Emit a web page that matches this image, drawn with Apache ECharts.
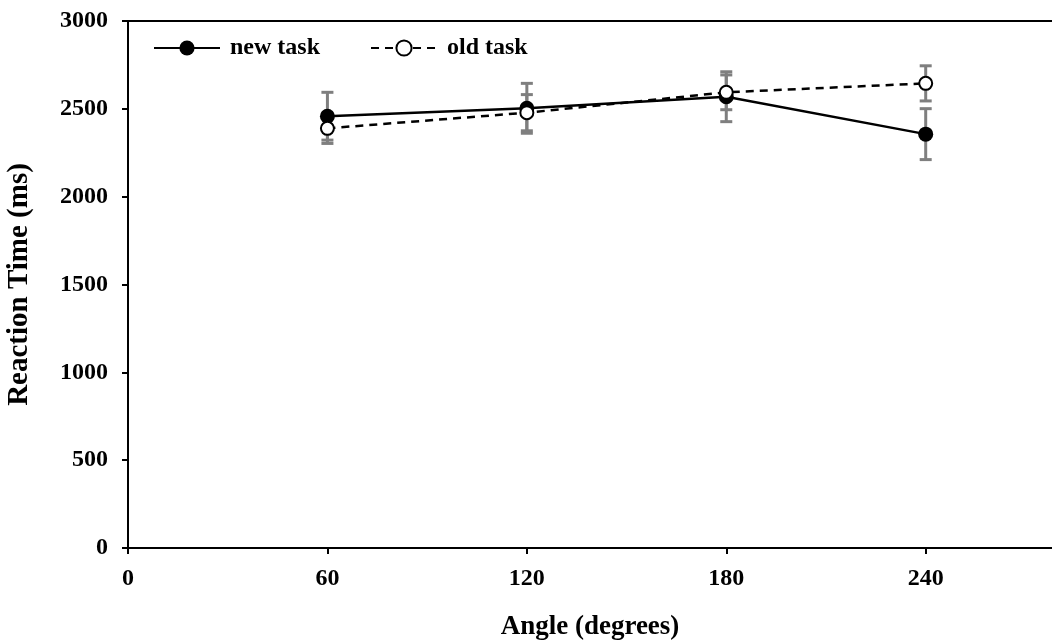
<!DOCTYPE html>
<html>
<head>
<meta charset="utf-8">
<script src="https://cdn.jsdelivr.net/npm/echarts@6/dist/echarts.min.js"></script>
<style>
html,body{margin:0;padding:0;background:#fff;}
#chart{width:1052px;height:642px;}
</style>
</head>
<body>
<div id="chart"></div>
<script>
// ---- data ----
const angles = [60, 120, 180, 240];
const newTask = [2458, 2503, 2569, 2356];
const oldTask = [2389, 2478, 2594, 2645];
const newErr = [136, 142, 142, 145];
const oldErr = [86, 103, 99, 100];
const xTicks = [0, 60, 120, 180, 240];
const yTicks = [0, 500, 1000, 1500, 2000, 2500, 3000];
const seriesNames = ['new task', 'old task'];

const FONT = 'Liberation Serif';
const chart = echarts.init(document.getElementById('chart'));

function errData(vals, errs) {
  return angles.map((a, i) => [a, vals[i] - errs[i], vals[i] + errs[i]]);
}
function errRender(params, api) {
  const x = api.value(0);
  const lo = api.coord([x, api.value(1)]);
  const hi = api.coord([x, api.value(2)]);
  const w = 6;
  const st = {stroke: '#7f7f7f', lineWidth: 3};
  return {
    type: 'group',
    children: [
      {type: 'line', shape: {x1: lo[0], y1: lo[1], x2: hi[0], y2: hi[1]}, style: st},
      {type: 'line', shape: {x1: hi[0] - w, y1: hi[1], x2: hi[0] + w, y2: hi[1]}, style: st},
      {type: 'line', shape: {x1: lo[0] - w, y1: lo[1], x2: lo[0] + w, y2: lo[1]}, style: st}
    ]
  };
}

const option = {
  animation: false,
  backgroundColor: '#fff',
  grid: {left: 128, top: 21, bottom: 94, right: 0, containLabel: false, outerBoundsMode: 'none'},
  legend: {
    left: 148, top: 31,
    itemWidth: 66, itemHeight: 19, itemGap: 50,
    data: seriesNames,
    textStyle: {fontFamily: FONT, fontWeight: 'bold', fontSize: 24, color: '#000', padding: [0, 0, 0, 5]}
  },
  xAxis: [{
    type: 'value', min: 0, max: 278, interval: 60,
    name: 'Angle (degrees)', nameLocation: 'middle', nameGap: 66,
    nameTextStyle: {fontFamily: FONT, fontWeight: 'bold', fontSize: 27, color: '#000'},
    axisLine: {show: true, onZero: false, lineStyle: {color: '#000', width: 2}},
    axisTick: {show: true, inside: false, length: 6, lineStyle: {color: '#000', width: 2}, customValues: xTicks},
    axisLabel: {fontFamily: FONT, fontWeight: 'bold', fontSize: 24, color: '#000', margin: 19, customValues: xTicks},
    splitLine: {show: false}
  }, {
    type: 'value', min: 0, max: 278, position: 'top',
    axisLine: {show: true, onZero: false, lineStyle: {color: '#000', width: 2}},
    axisTick: {show: false}, axisLabel: {show: false}, splitLine: {show: false}
  }],
  yAxis: {
    type: 'value', min: 0, max: 3000, interval: 500,
    name: 'Reaction Time (ms)', nameLocation: 'middle', nameGap: 94,
    nameTextStyle: {fontFamily: FONT, fontWeight: 'bold', fontSize: 29, color: '#000'},
    axisLine: {show: true, lineStyle: {color: '#000', width: 2}},
    axisTick: {show: true, inside: false, length: 6, lineStyle: {color: '#000', width: 2}, customValues: yTicks},
    axisLabel: {fontFamily: FONT, fontWeight: 'bold', fontSize: 24, color: '#000', margin: 20, customValues: yTicks, formatter: v => String(v)},
    splitLine: {show: false}
  },
  series: [
    {type: 'custom', name: 'errNew', renderItem: errRender, data: errData(newTask, newErr), z: 1, silent: true},
    {type: 'custom', name: 'errOld', renderItem: errRender, data: errData(oldTask, oldErr), z: 1, silent: true},
    {
      type: 'line', name: seriesNames[0], z: 3,
      data: angles.map((a, i) => [a, newTask[i]]),
      symbol: 'circle', symbolSize: 15, showAllSymbol: true,
      lineStyle: {color: '#000', width: 2.5, type: 'solid'},
      itemStyle: {color: '#000', borderColor: '#000', borderWidth: 0}
    },
    {
      type: 'line', name: seriesNames[1], z: 4,
      data: angles.map((a, i) => [a, oldTask[i]]),
      symbol: 'circle', symbolSize: 13, showAllSymbol: true,
      lineStyle: {color: '#000', width: 2.5, type: [8, 6]},
      itemStyle: {color: '#fff', borderColor: '#000', borderWidth: 2}
    }
  ]
};
chart.setOption(option);
</script>
</body>
</html>
